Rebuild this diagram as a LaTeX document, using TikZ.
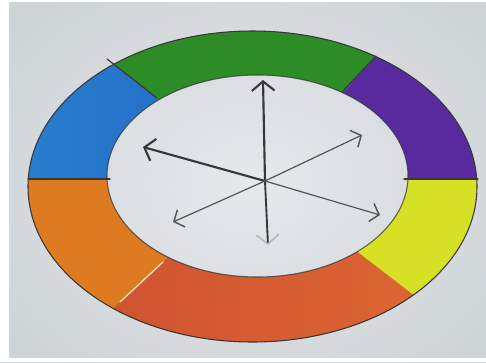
\documentclass[tikz,border=0pt]{standalone}
\usetikzlibrary{arrows.meta}
\definecolor{paperC}{RGB}{230,232,236}
\definecolor{paperD}{RGB}{206,211,214}
\definecolor{blueC}{RGB}{40,125,205}
\definecolor{blueD}{RGB}{30,85,190}
\definecolor{greenC}{RGB}{46,140,38}
\definecolor{purpleC}{RGB}{88,42,158}
\definecolor{yellowC}{RGB}{214,224,36}
\definecolor{redC}{RGB}{205,78,48}
\definecolor{redL}{RGB}{222,105,50}
\definecolor{orangeC}{RGB}{222,122,32}
\definecolor{inkC}{RGB}{55,55,60}
\begin{document}
\begin{tikzpicture}[x=0.75pt,y=-0.75pt,line join=round,line cap=round,
  rimline/.style={draw=inkC,line width=0.8pt},
  divider/.style={draw=inkC,line width=0.9pt},
  paledivider/.style={draw=white!85!orange,line width=0.9pt},
  thickray/.style={draw=inkC,line width=1.6pt,-{Straight Barb[length=7pt,width=17pt,line width=1.6pt]}},
  thinray/.style={draw=inkC!85,line width=0.9pt,-{Straight Barb[length=6pt,width=14pt,line width=1.1pt]}}]
\useasboundingbox (0,0) rectangle (486,362);
\fill[white] (0,0) rectangle (486,362);
\fill[paperD] (9,2) rectangle (486,358);
\shade[inner color=paperC,outer color=paperD] (-60,-60) rectangle (560,430);
\fill[white] (0,0) rectangle (9,362);
\fill[white] (0,358) rectangle (486,362);
\fill[white] (0,0) rectangle (486,2);
% segments
\begin{scope}
\clip (118,179) -- (-20,179) -- (-20,-35) -- (-14,-35) -- (165,104) -- cycle;
\shade[even odd rule,left color=blueC,right color=blueD] (252.5,186.5) ellipse [x radius=224.5, y radius=155.5] (257.5,176) ellipse [x radius=150.5, y radius=101];
\end{scope}
\begin{scope}
\clip (165,104) -- (-14,-35) -- (455,-30) -- (336,100) -- cycle;
\fill[even odd rule,greenC] (252.5,186.5) ellipse [x radius=224.5, y radius=155.5] (257.5,176) ellipse [x radius=150.5, y radius=101];
\end{scope}
\begin{scope}
\clip (336,100) -- (455,-30) -- (510,-30) -- (510,179) -- (398,179) -- cycle;
\fill[even odd rule,purpleC] (252.5,186.5) ellipse [x radius=224.5, y radius=155.5] (257.5,176) ellipse [x radius=150.5, y radius=101];
\end{scope}
\begin{scope}
\clip (398,179) -- (510,179) -- (510,360) -- (498,360) -- (355,250) -- cycle;
\fill[even odd rule,yellowC] (252.5,186.5) ellipse [x radius=224.5, y radius=155.5] (257.5,176) ellipse [x radius=150.5, y radius=101];
\end{scope}
\begin{scope}
\clip (355,250) -- (498,360) -- (498,400) -- (34,400) -- (34,382) -- (170,255) -- cycle;
\shade[even odd rule,left color=redC,right color=redL] (252.5,186.5) ellipse [x radius=224.5, y radius=155.5] (257.5,176) ellipse [x radius=150.5, y radius=101];
\end{scope}
\begin{scope}
\clip (170,255) -- (34,382) -- (-20,382) -- (-20,179) -- (118,179) -- cycle;
\fill[even odd rule,orangeC] (252.5,186.5) ellipse [x radius=224.5, y radius=155.5] (257.5,176) ellipse [x radius=150.5, y radius=101];
\end{scope}
% rims
\draw[rimline] (252.5,186.5) ellipse [x radius=224.5, y radius=155.5];
\draw[rimline,draw opacity=0.75] (257.5,176) ellipse [x radius=150.5, y radius=101];
% dividers
\coordinate (b1o) at (28,179);   \coordinate (b1i) at (110,179);
\coordinate (b2o) at (107,59);   \coordinate (b2i) at (157,98);
\coordinate (b3o) at (376,56);   \coordinate (b3i) at (342,92);
\coordinate (b4o) at (478,179);  \coordinate (b4i) at (404,179);
\coordinate (b6o) at (120,302);  \coordinate (b6i) at (163,262);
\draw[divider] (b1o) -- (b1i);
\draw[divider] (b2o) -- (b2i);
\draw[divider] (b3o) -- (b3i);
\draw[divider] (b4o) -- (b4i);
\draw[paledivider] (b6o) -- (b6i);
% arrows
\coordinate (c) at (265,181);
\coordinate (tU) at (263,80);
\coordinate (tD) at (268,245);
\coordinate (tUL) at (143,147);
\coordinate (tLR) at (380,215);
\coordinate (tUR) at (362,135);
\coordinate (tLL) at (173,222);
\draw[thickray] (c) -- (tU);
\draw[draw=inkC,line width=1.4pt,-{Straight Barb[length=7pt,width=17pt,line width=1.2pt,color=gray!55]}] (c) -- (tD);
\draw[thickray] (c) -- (tUL);
\draw[thinray] (c) -- (tLR);
\draw[thinray] (c) -- (tUR);
\draw[thinray] (c) -- (tLL);
\end{tikzpicture}
\end{document}
